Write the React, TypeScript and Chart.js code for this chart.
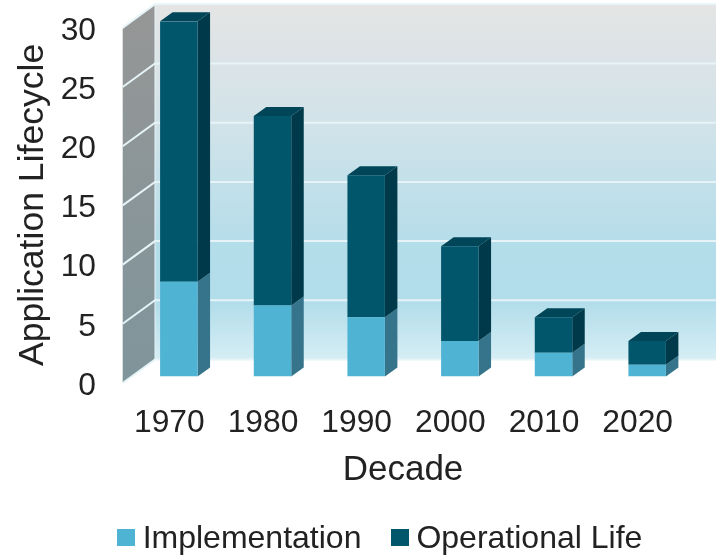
import React, { useEffect, useRef } from "react";
import { Chart, registerables } from "chart.js";

Chart.register(...registerables);

const decades = ["1970", "1980", "1990", "2000", "2010", "2020"];
const implementation = [8, 6, 5, 3, 2, 1];
const operationalLife = [22, 16, 12, 8, 3, 2];
const seriesNames = ["Implementation", "Operational Life"];
const frontColors = ["#4FB3D3", "#01566B"];
const sideColors = ["#35748A", "#003A4A"];
const topColor = "#014558";
const FONT = "'Liberation Sans', Arial, sans-serif";
const TEXT = "#222222";

const swatch = (color: string) => {
  const c = document.createElement("canvas");
  c.width = 18;
  c.height = 21;
  const g = c.getContext("2d")!;
  g.fillStyle = color;
  g.fillRect(0, 0, 18, 17);
  return c;
};

const shiftTitle = (scale: any, dx: number, dy: number) => {
  if (scale.__shifted) return;
  scale.__shifted = true;
  const orig = scale.drawTitle;
  scale.drawTitle = function () {
    const ctx = scale.ctx;
    ctx.save();
    ctx.translate(dx, dy);
    orig.call(scale);
    ctx.restore();
  };
};

const scene = {
  id: "scene3d",
  afterLayout(chart: any) {
    const l = chart.legend;
    l.left += 37;
    l.right += 37;
    l.top -= 9.5;
    l.bottom -= 9.5;
    shiftTitle(chart.scales.x, -10, 0);
    shiftTitle(chart.scales.y, 0, 6);
  },
  beforeDatasetsDraw(chart: any) {
    const { ctx, scales } = chart;
    const y = scales.y;
    const right = chart.width;
    const wallDx = 32.3;
    const backUp = 17;
    const frontDown = 6.5;
    const x0 = chart.chartArea.left - 9.3;
    const x1 = x0 + wallDx;
    const top = y.getPixelForValue(30);
    const bot = y.getPixelForValue(0);

    ctx.save();
    // back wall
    const bg = ctx.createLinearGradient(0, top - backUp, 0, bot - backUp);
    bg.addColorStop(0, "#E4E4E4");
    bg.addColorStop(0.33, "#D2E3E9");
    bg.addColorStop(0.68, "#B4DDEA");
    bg.addColorStop(0.84, "#B2DDEA");
    bg.addColorStop(1, "#D6EEF5");
    ctx.fillStyle = bg;
    ctx.fillRect(x1, top - backUp, right - x1, bot - top);

    // side wall
    const sg = ctx.createLinearGradient(0, top - backUp, 0, bot + frontDown);
    sg.addColorStop(0, "#969696");
    sg.addColorStop(1, "#7F959B");
    ctx.fillStyle = sg;
    ctx.beginPath();
    ctx.moveTo(x0, top + frontDown + 1);
    ctx.lineTo(x1, top - backUp);
    ctx.lineTo(x1, bot - backUp);
    ctx.lineTo(x0, bot + frontDown);
    ctx.closePath();
    ctx.fill();

    // grid lines on the walls
    ctx.strokeStyle = "#E6F4F8";
    ctx.lineWidth = 2;
    y.ticks.forEach((t: any) => {
      const p = y.getPixelForValue(t.value);
      ctx.beginPath();
      ctx.moveTo(x0, p + frontDown);
      ctx.lineTo(x1, p - backUp);
      ctx.lineTo(right, p - backUp);
      ctx.stroke();
    });
    ctx.strokeStyle = "#E6F4F8";
    ctx.lineWidth = 1;
    ctx.beginPath();
    ctx.moveTo(x1, top - backUp);
    ctx.lineTo(x1, bot - backUp);
    ctx.stroke();

    // bar depth faces, taken from the bar elements
    const dx = 12.5;
    const dy = 9;
    chart.data.datasets.forEach((_: any, di: number) => {
      const bars = chart.getDatasetMeta(di).data;
      bars.forEach((b: any) => {
        const r = b.x + b.width / 2;
        ctx.fillStyle = sideColors[di];
        ctx.beginPath();
        ctx.moveTo(r, b.y);
        ctx.lineTo(r + dx, b.y - dy);
        ctx.lineTo(r + dx, b.base - dy);
        ctx.lineTo(r, b.base);
        ctx.closePath();
        ctx.fill();
        if (di === chart.data.datasets.length - 1) {
          const l = b.x - b.width / 2;
          ctx.fillStyle = topColor;
          ctx.beginPath();
          ctx.moveTo(l, b.y);
          ctx.lineTo(l + dx, b.y - dy);
          ctx.lineTo(r + dx, b.y - dy);
          ctx.lineTo(r, b.y);
          ctx.closePath();
          ctx.fill();
        }
      });
    });
    ctx.restore();
  },
};

export default function App() {
  const ref = useRef<HTMLCanvasElement>(null);
  useEffect(() => {
    const chart = new Chart(ref.current!, {
      type: "bar",
      data: {
        labels: decades,
        datasets: [
          { label: seriesNames[0], data: implementation, backgroundColor: frontColors[0], borderWidth: 0 },
          { label: seriesNames[1], data: operationalLife, backgroundColor: frontColors[1], borderWidth: 0 },
        ],
      },
      plugins: [scene],
      options: {
        animation: false,
        responsive: false,
        layout: { padding: { left: 0, right: 22, top: 21.3, bottom: -20 } },
        datasets: { bar: { categoryPercentage: 1, barPercentage: 0.4 } },
        plugins: {
          title: { display: false },
          tooltip: { enabled: false },
          legend: {
            position: "bottom",
            labels: {
              color: TEXT,
              font: { family: FONT, size: 32 },
              padding: 38,
              usePointStyle: true,
              pointStyleWidth: 1,
              generateLabels: (chart: any) =>
                chart.data.datasets.map((d: any, i: number) => ({
                  text: d.label,
                  fontColor: TEXT,
                  fillStyle: d.backgroundColor,
                  strokeStyle: d.backgroundColor,
                  lineWidth: 0,
                  hidden: false,
                  datasetIndex: i,
                  pointStyle: swatch(d.backgroundColor),
                })),
            },
          },
        },
        scales: {
          x: {
            stacked: true,
            afterFit: (s: any) => {
              s.height = 118.5;
              s.paddingLeft = 0;
              s.paddingRight = 0;
            },
            grid: { display: false, drawTicks: false },
            border: { display: false },
            ticks: {
              color: TEXT,
              font: { family: FONT, size: 31.8 },
              padding: 27.5,
              labelOffset: -9.5,
              autoSkip: false,
              maxRotation: 0,
            },
            title: {
              display: true,
              text: "Decade",
              color: TEXT,
              font: { family: FONT, size: 35 },
              padding: { top: 0, bottom: 3.5 },
            },
          },
          y: {
            stacked: true,
            min: 0,
            max: 30,
            afterFit: (s: any) => {
              s.width = 132;
              s.paddingTop = 0;
              s.paddingBottom = 0;
            },
            grid: { display: false, drawTicks: false },
            border: { display: false },
            ticks: {
              stepSize: 5,
              color: TEXT,
              font: { family: FONT, size: 31.8 },
              padding: 36,
              labelOffset: 9.5,
            },
            title: {
              display: true,
              text: "Application Lifecycle",
              color: TEXT,
              font: { family: FONT, size: 35.6 },
              padding: { top: 12, bottom: 0 },
            },
          },
        },
      },
    } as any);
    return () => chart.destroy();
  }, []);
  return (
    <canvas
      ref={ref}
      width={716}
      height={555}
      style={{ position: "fixed", left: 0, top: 0, display: "block" }}
    />
  );
}
